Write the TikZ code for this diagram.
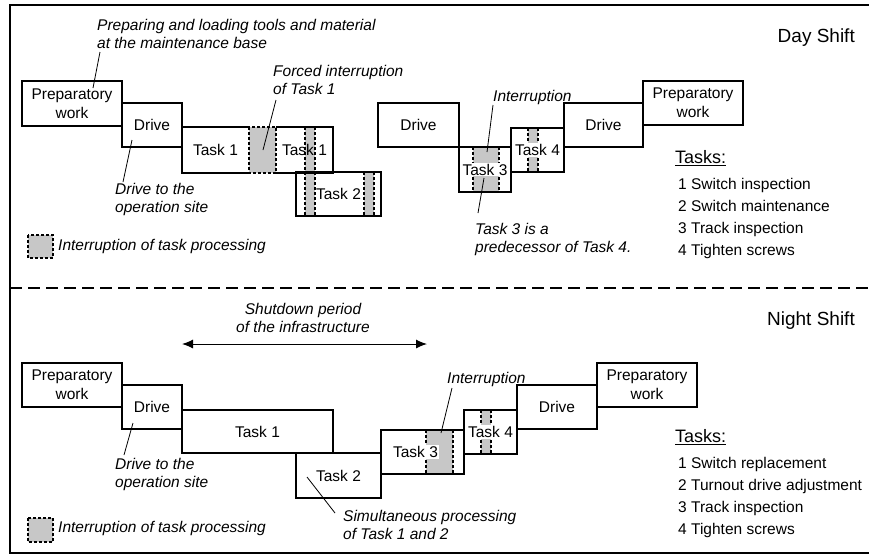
\documentclass[tikz,border=0pt]{standalone}
\usepackage{fontspec}
\setmainfont{Liberation Sans}
\usetikzlibrary{arrows.meta}

\newcommand{\boxfont}{\fontsize{15.5}{19}\selectfont}
\newcommand{\notefont}{\fontsize{15.5}{18}\selectfont\itshape}
\newcommand{\listfont}{\fontsize{15.5}{22}\selectfont}
\newcommand{\headfont}{\fontsize{18}{20}\selectfont}

\tikzset{
  box/.style={draw, line width=1.6pt, outer sep=0pt, inner sep=0pt, font=\boxfont, align=center, anchor=north west},
  note/.style={font=\notefont, align=left, inner sep=0pt, anchor=north west},
  tag/.style={fill=white, inner sep=1pt, font=\boxfont},
  lead/.style={line width=0.8pt},
  gap/.style={fill=black!22, draw, line width=1.2pt, dash pattern=on 3pt off 2pt},
  gapline/.style={line width=1.2pt, dash pattern=on 3pt off 2pt}
}

\begin{document}
\begin{tikzpicture}[x=1pt, y=-1pt]
  \useasboundingbox (0,0) rectangle (869,558);
  % frame and shift separator
  \draw[line width=2.2pt] (872,5) -- (10,5) -- (10,553) -- (872,553);
  \draw[line width=2.2pt, dash pattern=on 12pt off 6pt] (10,288) -- (872,288);

  %%% day shift
  % interruptions (behind the boxes)
  \draw[gap] (305,127) rectangle (315,216);
  \draw[gap] (364,172) rectangle (374,216);
  \fill[black!22] (473,147) rectangle (499,192);
  \draw[gapline] (473,147) -- (473,192) (499,147) -- (499,192);
  \draw[gap] (528,128) rectangle (538,172);

  \node[box, minimum width=100, minimum height=45] (dPrep) at (22,81) {Preparatory\\work};
  \node[box, minimum width=60, minimum height=44] (dDrive) at (122,103) {Drive};
  \node[box, draw=none, minimum width=67, minimum height=46] (dTa) at (182,127) {Task 1};
  \node[box, draw=none, minimum width=57, minimum height=46] (dTb) at (276,127) {Task 1};
  \draw[line width=1.6pt] (dTa.north east) -- (dTa.north west) -- (dTa.south west) -- (dTa.south east);
  \draw[line width=1.6pt] (dTb.north west) -- (dTb.north east) -- (dTb.south east) -- (dTb.south west);
  \draw[gap] (dTa.north east) rectangle (dTb.south west);
  \node[box, minimum width=85, minimum height=44] (dTc) at (296,172) {Task 2};
  \draw[gapline] (305,172) -- (305,216) (315,172) -- (315,216);
  \node[box, minimum width=81, minimum height=44] (dDriveB) at (378,103) {Drive};
  \node[box, minimum width=52, minimum height=45] (dTd) at (459,147) {};
  \node[tag] at (dTd.center) {Task 3};
  \node[box, minimum width=53, minimum height=44] (dTe) at (511,128) {};
  \node[tag] at (dTe.center) {Task 4};
  \node[box, minimum width=79, minimum height=44] (dDriveC) at (564,103) {Drive};
  \node[box, minimum width=100, minimum height=44] (dPrepB) at (643,81) {Preparatory\\work};

  % notes
  \node[note] (dNoteA) at (97,19) {Preparing and loading tools and material\\at the maintenance base};
  \node[note] (dNoteB) at (273,65) {Forced interruption\\of Task 1};
  \node[note] (dNoteC) at (115,183) {Drive to the\\operation site};
  \node[note] (dNoteD) at (493,90) {Interruption};
  \node[note] (dNoteE) at (475,223) {Task 3 is a\\predecessor of Task 4.};
  \coordinate (dA1) at (100,52);  \coordinate (dA2) at (93,88);
  \coordinate (dB1) at (276,100); \coordinate (dB2) at (263,150);
  \coordinate (dC1) at (132,140); \coordinate (dC2) at (123,182);
  \coordinate (dD1) at (493,105); \coordinate (dD2) at (487,152);
  \coordinate (dE1) at (484,178); \coordinate (dE2) at (478,213);
  \draw[lead] (dA1) -- (dA2);
  \draw[lead] (dB1) -- (dB2);
  \draw[lead] (dC1) -- (dC2);
  \draw[lead] (dD1) -- (dD2);
  \draw[lead] (dE1) -- (dE2);

  % legend and task list
  \draw[gap] (28,235) rectangle (53,258);
  \node[note] (dKey) at (58,239) {Interruption of task processing};
  \node[anchor=north east, inner sep=0pt, font=\fontsize{19}{21}\selectfont] (dTitle) at (855,29) {Day Shift};
  \node[anchor=north west, inner sep=0pt, font=\headfont] (dTasks) at (675,150) {\underline{Tasks:}};
  \node[anchor=north west, inner sep=0pt, font=\listfont, align=left] (dList) at (678,178)
    {1 Switch inspection\\2 Switch maintenance\\3 Track inspection\\4 Tighten screws};

  %%% night shift
  \node[note, anchor=north, align=center] (nShut) at (303,303) {Shutdown period\\of the infrastructure};
  \coordinate (nS1) at (182,344); \coordinate (nS2) at (427,344);
  \draw[{Latex[length=11pt,width=9pt]}-{Latex[length=11pt,width=9pt]}, line width=1pt] (nS1) -- (nS2);

  \fill[black!22] (426,430) rectangle (453,474);
  \draw[gapline] (426,430) -- (426,474) (453,430) -- (453,474);
  \draw[gap] (481,410) rectangle (491,454);

  \node[box, minimum width=100, minimum height=44] (nPrep) at (22,363) {Preparatory\\work};
  \node[box, minimum width=60, minimum height=44] (nDrive) at (122,385) {Drive};
  \node[box, minimum width=151, minimum height=43] (nTa) at (182,410) {Task 1};
  \node[box, minimum width=85, minimum height=45] (nTb) at (296,453) {Task 2};
  \node[box, minimum width=83, minimum height=44] (nTc) at (381,430) {};
  \node[tag] at ([xshift=-7]nTc.center) {Task 3};
  \node[box, minimum width=53, minimum height=44] (nTd) at (464,410) {};
  \node[tag] at (nTd.center) {Task 4};
  \node[box, minimum width=80, minimum height=44] (nDriveB) at (517,385) {Drive};
  \node[box, minimum width=100, minimum height=44] (nPrepB) at (597,363) {Preparatory\\work};

  \node[note] (nNoteA) at (447,372) {Interruption};
  \node[note] (nNoteB) at (115,458) {Drive to the\\operation site};
  \node[note] (nNoteC) at (343,510) {Simultaneous processing\\of Task 1 and 2};
  \coordinate (nA1) at (452,388); \coordinate (nA2) at (441,433);
  \coordinate (nB1) at (133,423); \coordinate (nB2) at (124,455);
  \coordinate (nC1) at (307,477); \coordinate (nC2) at (335,513);
  \draw[lead] (nA1) -- (nA2);
  \draw[lead] (nB1) -- (nB2);
  \draw[lead] (nC1) -- (nC2);

  \draw[gap] (28,518) rectangle (53,542);
  \node[note] (nKey) at (58,521) {Interruption of task processing};
  \node[anchor=north east, inner sep=0pt, font=\fontsize{19}{21}\selectfont] (nTitle) at (855,312) {Night Shift};
  \node[anchor=north west, inner sep=0pt, font=\headfont] (nTasks) at (675,429) {\underline{Tasks:}};
  \node[anchor=north west, inner sep=0pt, font=\listfont, align=left] (nList) at (678,457)
    {1 Switch replacement\\2 Turnout drive adjustment\\3 Track inspection\\4 Tighten screws};
\end{tikzpicture}
\end{document}
